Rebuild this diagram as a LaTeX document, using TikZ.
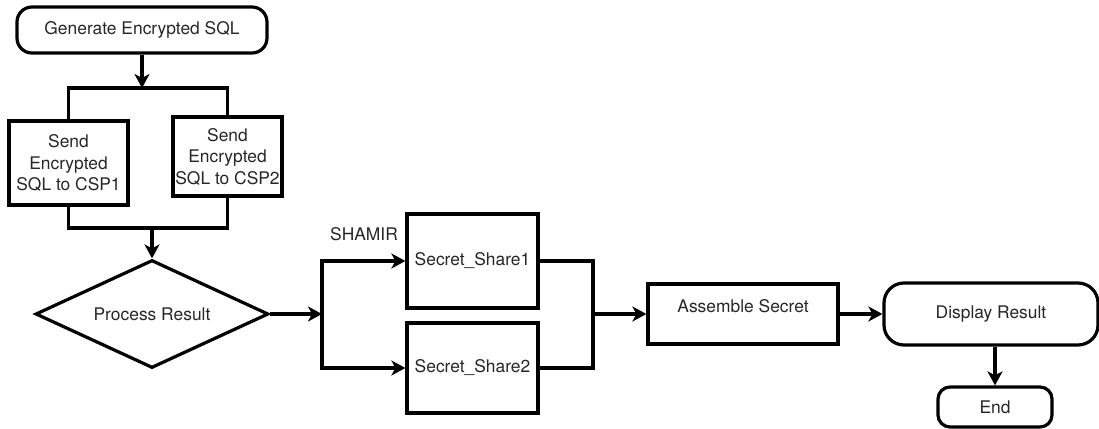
\documentclass[tikz,border=0pt]{standalone}
\usepackage{fontspec}
\setmainfont{TeX Gyre Heros}
\usetikzlibrary{shapes.geometric,arrows.meta}
\begin{document}
\begin{tikzpicture}[x=1pt,y=-1pt,
  every node/.style={font=\fontsize{17.4}{21.5}\selectfont, text=black!85},
  base/.style={draw, line width=3.2pt, inner sep=2pt},
  procbox/.style={base, rectangle},
  term/.style={base, rectangle},
  dec/.style={base, diamond, aspect=2.16, inner sep=0pt},
  conn/.style={line width=3.2pt},
  arr/.style={conn, -{Stealth[length=14pt,width=15pt,inset=4pt]}},
]
\useasboundingbox (0,0) rectangle (1099,428);

% left column: query generation and dispatch
\node[term, rounded corners=15pt, minimum width=250pt, minimum height=46pt] (gen) at (142,30) {Generate Encrypted SQL};
\node[procbox, minimum width=119pt, minimum height=84pt, align=center] (cspA) at (68.5,163) {Send\\Encrypted\\SQL to CSP1};
\node[procbox, minimum width=109pt, minimum height=79pt, align=center] (cspB) at (227.5,156.5) {Send\\Encrypted\\SQL to CSP2};
\coordinate (split) at (142,88);
\coordinate (join) at (152,228);
\node[dec, minimum width=233pt, minimum height=108pt] (proc) at (152,314) {Process Result};

% secret sharing
\node (shamir) at (364,234) {SHAMIR};
\coordinate (fork) at (322,314);
\node[procbox, minimum width=131pt, minimum height=94pt] (ssA) at (472.5,261) {Secret\_Share1};
\node[procbox, minimum width=131pt, minimum height=90pt] (ssB) at (472.5,368) {Secret\_Share2};
\coordinate (merge) at (593,314);
\node[procbox, minimum width=190pt, minimum height=60pt, text depth=16pt] (asm) at (743,314) {Assemble Secret};

% output
\node[term, rounded corners=20pt, minimum width=214pt, minimum height=62pt] (disp) at (991,314) {Display Result};
\node[term, rounded corners=12pt, minimum width=114pt, minimum height=40pt] (fin) at (995,407) {End};

% connectors
\draw[arr] (gen.south) -- (split);
\draw[conn] (cspA.north) -- (cspA.north |- split) -- (cspB.north |- split) -- (cspB.north);
\draw[conn] (cspA.south) -- (cspA.south |- join) -- (cspB.south |- join) -- (cspB.south);
\draw[arr] (join) -- (proc.north);
\draw[arr] (proc.east) -- (fork);
\draw[arr] (fork) |- (ssA.west);
\draw[arr] (fork) |- (ssB.west);
\draw[conn] (ssA.east) -| (merge);
\draw[conn] (ssB.east) -| (merge);
\draw[arr] (merge) -- (asm.west);
\draw[arr] (asm.east) -- (disp.west);
\draw[arr] (fin.north |- disp.south) -- (fin.north);
\end{tikzpicture}
\end{document}
